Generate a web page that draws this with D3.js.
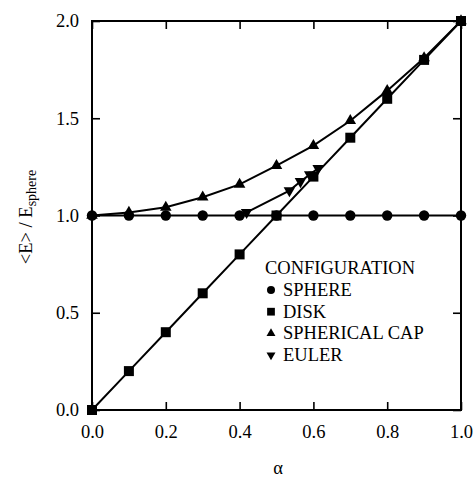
<!DOCTYPE html>
<html><head><meta charset="utf-8">
<script src="https://cdn.jsdelivr.net/npm/d3@7"></script>
<style>body{margin:0;background:#fff}svg text{font-family:"Liberation Serif","Times New Roman",serif !important;fill:#000}</style>
</head><body><svg id="c" width="476" height="477" font-family="Liberation Serif"></svg>
<script>
const alphaValues = [0, 0.1, 0.2, 0.3, 0.4, 0.5, 0.6, 0.7, 0.8, 0.9, 1.0];
const sphereValues = [1, 1, 1, 1, 1, 1, 1, 1, 1, 1, 1];
const diskValues = [0, 0.2, 0.4, 0.6, 0.8, 1.0, 1.2, 1.4, 1.6, 1.8, 2.0];
const capValues = [1.0, 1.016, 1.042, 1.094, 1.160, 1.256, 1.359, 1.487, 1.642, 1.81, 2.0];
const eulerAlpha = [0.419, 0.535, 0.565, 0.59, 0.613];
const eulerValues = [1.016, 1.128, 1.175, 1.21, 1.243];
const xTicks = [0, 0.2, 0.4, 0.6, 0.8, 1.0];
const yTicks = [0, 0.5, 1.0, 1.5, 2.0];
const legendTitle = "CONFIGURATION";
const legendLabels = ["SPHERE", "DISK", "SPHERICAL CAP", "EULER"];

const svg = d3.select("#c");
const L = 92, R = 461, T = 21, B = 410;
const x = d3.scaleLinear().domain([0, 1]).range([L, R]);
const y = d3.scaleLinear().domain([0, 2]).range([B, T]);
const fs = 18.5;
const FF = "Liberation Serif";

// axes
const fmt = d3.format(".1f");
const gB = svg.append("g").attr("transform", `translate(0,${B})`)
  .call(d3.axisBottom(x).tickValues(xTicks).tickFormat(fmt).tickSize(-8).tickPadding(15));
const gT = svg.append("g").attr("transform", `translate(0,${T})`)
  .call(d3.axisTop(x).tickValues(xTicks).tickFormat("").tickSize(-8));
const gL = svg.append("g").attr("transform", `translate(${L},0)`)
  .call(d3.axisLeft(y).tickValues(yTicks).tickFormat(fmt).tickSize(-8).tickPadding(13));
const gR = svg.append("g").attr("transform", `translate(${R},0)`)
  .call(d3.axisRight(y).tickValues(yTicks).tickFormat("").tickSize(-8));
[gB, gT, gL, gR].forEach(g => {
  g.attr("font-family", FF).attr("font-size", fs);
  g.select(".domain").remove();
  g.selectAll(".tick line").attr("stroke", "#000").attr("stroke-width", 1.6);
  g.selectAll(".tick text").attr("font-size", fs).attr("font-family", FF).attr("fill", "#000");
});
svg.append("rect").attr("x", L).attr("y", T).attr("width", R - L).attr("height", B - T)
  .attr("fill", "none").attr("stroke", "#000").attr("stroke-width", 2);

// series
const series = [
  {xs: alphaValues, ys: sphereValues, sym: d3.symbolCircle, size: 85, rot: 0},
  {xs: alphaValues, ys: diskValues, sym: d3.symbolSquare, size: 100, rot: 0},
  {xs: alphaValues, ys: capValues, sym: d3.symbolTriangle, size: 58, rot: 0},
  {xs: eulerAlpha, ys: eulerValues, sym: d3.symbolTriangle, size: 58, rot: 180}
];
const line = d3.line().x(d => x(d[0])).y(d => y(d[1]));
series.forEach(s => {
  const pts = s.xs.map((v, i) => [v, s.ys[i]]);
  svg.append("path").attr("d", line(pts)).attr("fill", "none").attr("stroke", "#000").attr("stroke-width", 2);
});
series.forEach(s => {
  const pts = s.xs.map((v, i) => [v, s.ys[i]]);
  svg.append("g").selectAll("path").data(pts).join("path")
    .attr("d", d3.symbol().type(s.sym).size(s.size))
    .attr("transform", d => `translate(${x(d[0])},${y(d[1])}) rotate(${s.rot})`)
    .attr("fill", "#000");
});

// legend
svg.append("text").attr("x", 265).attr("y", 274).attr("font-family", FF).attr("font-size", fs).text(legendTitle);
legendLabels.forEach((lab, i) => {
  const by = 296 + i * 21.7;
  const s = series[i];
  svg.append("path").attr("d", d3.symbol().type(s.sym).size(s.size * 0.6))
    .attr("transform", `translate(271,${by - 6}) rotate(${s.rot})`).attr("fill", "#000");
  svg.append("text").attr("x", 283).attr("y", by).attr("font-family", FF).attr("font-size", fs).text(lab);
});

// axis titles
svg.append("text").attr("x", 278).attr("y", 474).attr("text-anchor", "middle").attr("font-family", FF).attr("font-size", fs).text("α");
const yl = svg.append("text").attr("transform", "translate(32,217) rotate(-90)").attr("text-anchor", "middle").attr("font-family", FF).attr("font-size", fs);
yl.append("tspan").text("<E> / E");
yl.append("tspan").attr("font-size", 14).attr("dy", 4).text("sphere");
</script>
</body></html>
